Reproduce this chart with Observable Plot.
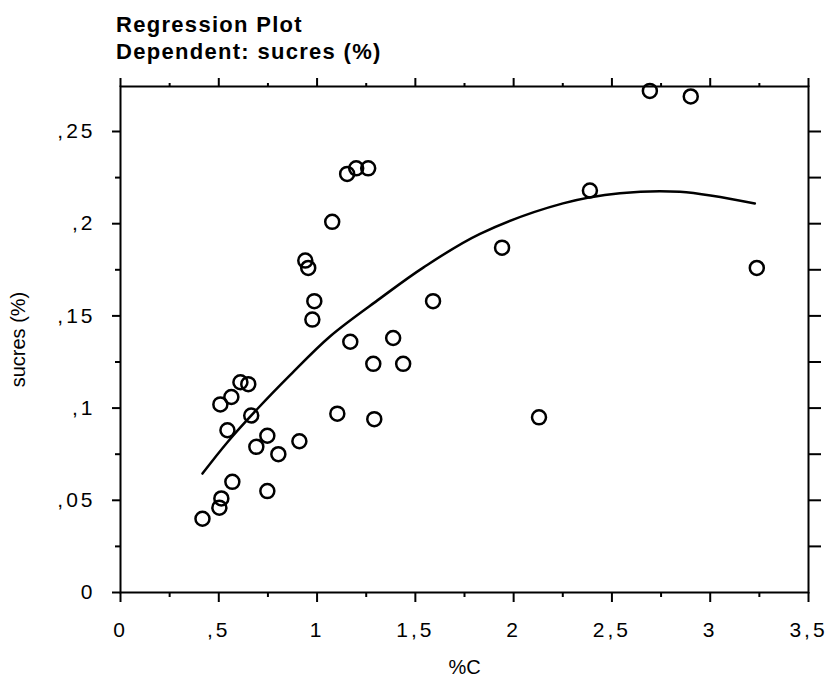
<!DOCTYPE html>
<html><head><meta charset="utf-8">
<script src="https://cdn.jsdelivr.net/npm/d3@7"></script>
<script src="https://cdn.jsdelivr.net/npm/@observablehq/plot@0.6"></script>
<style>
body{margin:0;background:#fff;}
#title{height:68px;box-sizing:border-box;padding:11px 0 0 116px;font:bold 22px "Liberation Sans",Arial,sans-serif;line-height:27px;letter-spacing:1.3px;color:#000}
#chart svg{display:block}
#chart g[aria-label$="tick label"] text{letter-spacing:3px}
</style></head>
<body><div id="title"><div>Regression Plot</div><div>Dependent: sucres (%)</div></div><div id="chart"></div>
<script>
// observed points: %C vs sucres (%)
const pointX = [0.417,0.503,0.513,0.569,0.747,0.544,0.508,0.564,0.610,0.650,0.665,0.691,0.747,0.803,0.910,1.103,1.291,1.286,1.169,1.387,1.438,0.976,0.986,0.955,0.940,1.077,1.153,1.199,1.260,1.590,1.941,2.129,2.388,2.693,2.901,3.237];
const pointY = [0.040,0.046,0.051,0.060,0.055,0.088,0.102,0.106,0.114,0.113,0.096,0.079,0.085,0.075,0.082,0.097,0.094,0.124,0.136,0.138,0.124,0.148,0.158,0.176,0.180,0.201,0.227,0.230,0.230,0.158,0.187,0.095,0.218,0.272,0.269,0.176];
// fitted regression curve
const curveX = [0.417,0.544,0.696,0.864,1.067,1.321,1.540,1.829,2.251,2.541,2.846,3.227];
const curveY = [0.0645,0.0815,0.0995,0.1180,0.1390,0.1595,0.1762,0.1945,0.2110,0.2165,0.2173,0.2109];
// ticks
const xMajor = [0,0.5,1,1.5,2,2.5,3,3.5];
const xTickLabels = ["0",",5","1","1,5","2","2,5","3","3,5"];
const xMinor = [0.25,0.75,1.25,1.75,2.25,2.75,3.25];
const yMajor = [0,0.05,0.1,0.15,0.2,0.25];
const yTickLabels = ["0",",05",",1",",15",",2",",25"];
const yMinor = [0.025,0.075,0.125,0.175,0.225];
const yRight = [0.025,0.05,0.075,0.1,0.125,0.15,0.175,0.2,0.225,0.25];
const xLabel = "%C";
const yLabel = "sucres (%)";

const pts = pointX.map((x,i)=>({x, y: pointY[i]}));
const fit = curveX.map((x,i)=>({x, y: curveY[i]}));
const blank = () => "";

const chart = Plot.plot({
  width: 834, height: 611,
  marginLeft: 120, marginRight: 26, marginTop: 18, marginBottom: 87,
  x: {domain: [0, 3.5]},
  y: {domain: [0, 0.2744]},
  style: {fontFamily: '"Liberation Sans", Arial, sans-serif', fontSize: "21px", color: "#000", background: "#fff"},
  marks: [
    Plot.frame({stroke: "#000", strokeWidth: 2}),
    Plot.axisX(xMajor, {tickSize: 10, tickPadding: 20, strokeWidth: 2, label: null, fontSize: 21, tickFormat: d => xTickLabels[xMajor.indexOf(d)]}),
    Plot.axisX(xMinor, {tickSize: 5, strokeWidth: 2, label: null, tickFormat: blank}),
    Plot.axisX(xMajor, {anchor: "top", tickSize: 9, strokeWidth: 2, label: null, tickFormat: blank}),
    Plot.axisX(xMinor, {anchor: "top", tickSize: 4, strokeWidth: 2, label: null, tickFormat: blank}),
    Plot.axisY(yMajor, {tickSize: 8, tickPadding: 17, strokeWidth: 2, label: null, fontSize: 21, tickFormat: d => yTickLabels[yMajor.indexOf(d)]}),
    Plot.axisY(yMinor, {tickSize: 5, strokeWidth: 2, label: null, tickFormat: blank}),
    Plot.axisY(yRight, {anchor: "right", tickSize: 12, strokeWidth: 2, label: null, tickFormat: blank}),
    Plot.text([yLabel], {frameAnchor: "left", dx: -102, rotate: -90, textAnchor: "middle", lineAnchor: "middle", fontSize: 20, text: d => d}),
    Plot.text([xLabel], {frameAnchor: "bottom", dy: 75, textAnchor: "middle", lineAnchor: "middle", fontSize: 20, text: d => d}),
    Plot.line(fit, {x: "x", y: "y", stroke: "#000", strokeWidth: 2.5, curve: "catmull-rom"}),
    Plot.dot(pts, {x: "x", y: "y", r: 7, stroke: "#000", strokeWidth: 2.5, fill: "none"})
  ]
});
document.getElementById("chart").append(chart);
</script>
</body></html>
